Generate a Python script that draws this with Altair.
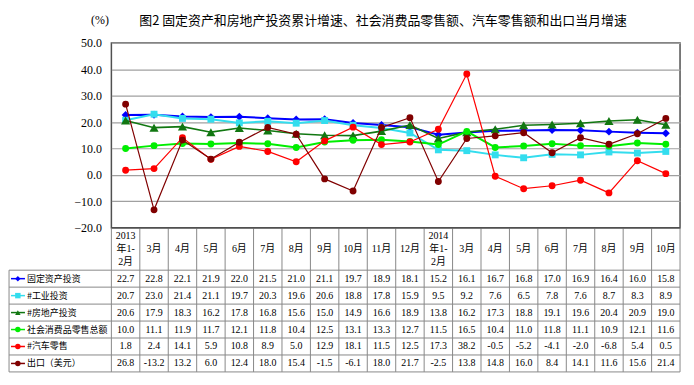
import altair as alt
import pandas as pd

categories = ["2013\n年1-\n2月", "3月", "4月", "5月", "6月", "7月", "8月", "9月", "10月", "11月", "12月",
              "2014\n年1-\n2月", "3月", "4月", "5月", "6月", "7月", "8月", "9月", "10月"]
series_names = ["固定资产投资", "#工业投资", "#房地产投资", "社会消费品零售总额", "#汽车零售", "出口（美元）"]
fixed_asset = [22.7, 22.8, 22.1, 21.9, 22.0, 21.5, 21.0, 21.1, 19.7, 18.9, 18.1, 15.2, 16.1, 16.7, 16.8, 17.0, 16.9, 16.4, 16.0, 15.8]
industry = [20.7, 23.0, 21.4, 21.1, 19.7, 20.3, 19.6, 20.6, 18.8, 17.8, 15.9, 9.5, 9.2, 7.6, 6.5, 7.8, 7.6, 8.7, 8.3, 8.9]
real_estate = [20.6, 17.9, 18.3, 16.2, 17.8, 16.8, 15.6, 15.0, 14.9, 16.6, 18.9, 13.8, 16.2, 17.3, 18.8, 19.1, 19.6, 20.4, 20.9, 19.0]
retail = [10.0, 11.1, 11.9, 11.7, 12.1, 11.8, 10.4, 12.5, 13.1, 13.3, 12.7, 11.5, 16.5, 10.4, 11.0, 11.8, 11.1, 10.9, 12.1, 11.6]
auto = [1.8, 2.4, 14.1, 5.9, 10.8, 8.9, 5.0, 12.9, 18.1, 11.5, 12.5, 17.3, 38.2, -0.5, -5.2, -4.1, -2.0, -6.8, 5.4, 0.5]
export = [26.8, -13.2, 13.2, 6.0, 12.4, 18.0, 15.4, -1.5, -6.1, 18.0, 21.7, -2.5, 13.8, 14.8, 16.0, 8.4, 14.1, 11.6, 15.6, 21.4]
series_values = [fixed_asset, industry, real_estate, retail, auto, export]
y_ticks = [-20, -10, 0, 10, 20, 30, 40, 50]

colors = ["#0000FF", "#33DDEE", "#117711", "#00EE00", "#FF0000", "#800000"]
shapes = ["diamond", "square", "triangle-up", "circle", "circle", "circle"]
sizes = [64, 48, 85, 48, 48, 48]
widths = [2, 2, 1.6, 2, 1.2, 1.2]

NUMFONT = "Liberation Serif, Noto Sans CJK SC"
CJK = "Noto Sans CJK SC"
W, H_TOP, H_TAB = 572, 186, 145
N = len(categories)

rows = []
for k, (name, vals) in enumerate(zip(series_names, series_values)):
    for i, v in enumerate(vals):
        rows.append({"series": name, "k": k, "x": i + 0.5, "value": v,
                     "label": f"{v:.1f}", "row": k + 3})
df = pd.DataFrame(rows)

xs = alt.Scale(domain=[0, N], nice=False, zero=False)
ys = alt.Scale(domain=[-20, 50], nice=False, zero=False)
yaxis = alt.Axis(values=y_ticks, format=".1f", ticks=False, domain=False,
                 labelFont=NUMFONT, labelFontSize=12, labelColor="black", labelPadding=10,
                 grid=True, gridColor="#A0A0A0", gridWidth=1.2,
                 title="(%)", titleAngle=0, titleX=-12, titleY=-23, titleAlign="center",
                 titleBaseline="middle", titleFont=NUMFONT, titleFontSize=12,
                 titleFontWeight="normal", titleColor="black")

layers = []
for k, name in enumerate(series_names):
    d = df[df["series"] == name]
    b = alt.Chart(d)
    enc = dict(x=alt.X("x:Q", scale=xs, axis=None),
               y=alt.Y("value:Q", scale=ys, axis=yaxis))
    layers.append(b.mark_line(color=colors[k], strokeWidth=widths[k]).encode(**enc))
    layers.append(b.mark_point(color=colors[k], filled=True, opacity=1, shape=shapes[k],
                               size=sizes[k]).encode(**enc))

top = alt.layer(*layers).properties(
    width=W, height=H_TOP,
    view=alt.ViewBackground(stroke="#505050", strokeWidth=1.5),
    title=alt.TitleParams(
        text="图2 固定资产和房地产投资累计增速、社会消费品零售额、汽车零售额和出口当月增速",
        anchor="start", frame="group", dx=28, offset=-14, font=CJK, fontSize=13,
        fontWeight="normal", color="black"))

# ---- data table ----
tx = alt.Scale(domain=[0, N], nice=False, zero=False)
ty = alt.Scale(domain=[0, 8.5], nice=False, zero=False, reverse=True)
LEG_LEFT, SYM_L, SYM_R, SYM_C, LAB_X = -3.6, -3.53, -3.04, -3.29, -2.97
HEAD_MID, LINE_H = 1.25, 13 / 17

cat_rows = []
for i, c in enumerate(categories):
    parts = c.split("\n")
    for j, p in enumerate(parts):
        cat_rows.append({"x": i + 0.5, "y": HEAD_MID + (j - (len(parts) - 1) / 2) * LINE_H, "text": p})
cat_df = pd.DataFrame(cat_rows)
leg_df = pd.DataFrame({"series": series_names, "row": [k + 3 for k in range(len(series_names))],
                       "x1": [SYM_L] * 6, "x2": [SYM_R] * 6, "xc": [SYM_C] * 6, "xl": [LAB_X] * 6})
h_df = pd.DataFrame({"y": [2.5 + j for j in range(7)], "x1": [LEG_LEFT] * 7, "x2": [N] * 7})
v_df = pd.DataFrame({"x": list(range(N + 1)) + [LEG_LEFT],
                     "y1": [0.0] * (N + 1) + [2.5], "y2": [8.5] * (N + 2)})
top_line = pd.DataFrame({"x1": [0], "x2": [N], "y": [0]})

X = lambda f: alt.X(f, scale=tx, axis=None)
Y = lambda f: alt.Y(f, scale=ty, axis=None)
cscale = alt.Scale(domain=series_names, range=colors)
sscale = alt.Scale(domain=series_names, range=shapes)

hl = alt.Chart(h_df).mark_rule(color="#888888", strokeWidth=1).encode(x=X("x1:Q"), x2="x2:Q", y=Y("y:Q"))
vl = alt.Chart(v_df).mark_rule(color="#888888", strokeWidth=1).encode(x=X("x:Q"), y=Y("y1:Q"), y2="y2:Q")
tl = alt.Chart(top_line).mark_rule(color="#505050", strokeWidth=1.5).encode(x=X("x1:Q"), x2="x2:Q", y=Y("y:Q"))
cat_txt = alt.Chart(cat_df).mark_text(font=NUMFONT, fontSize=10, color="black", baseline="middle").encode(
    x=X("x:Q"), y=Y("y:Q"), text="text:N")
val_txt = alt.Chart(df).mark_text(font=NUMFONT, fontSize=10, color="black", baseline="middle").encode(
    x=X("x:Q"), y=Y("row:Q"), text="label:N")
leg_line = alt.Chart(leg_df).mark_rule(strokeWidth=1.5).encode(
    x=X("x1:Q"), x2="x2:Q", y=Y("row:Q"), color=alt.Color("series:N", scale=cscale, legend=None))
leg_pt = alt.Chart(leg_df).mark_point(filled=True, opacity=1, size=30).encode(
    x=X("xc:Q"), y=Y("row:Q"), color=alt.Color("series:N", scale=cscale, legend=None),
    shape=alt.Shape("series:N", scale=sscale, legend=None))
leg_txt = alt.Chart(leg_df).mark_text(font=CJK, fontSize=9, color="black", align="left",
                                      baseline="middle").encode(x=X("xl:Q"), y=Y("row:Q"), text="series:N")

bottom = alt.layer(hl, vl, tl, cat_txt, val_txt, leg_line, leg_pt, leg_txt).properties(width=W, height=H_TAB)

chart = alt.vconcat(top, bottom, spacing=0, bounds="flush").resolve_scale(
    x="independent", y="independent", color="independent", shape="independent").properties(
    padding={"left": 0, "top": 4, "right": 4, "bottom": 0}
).configure_view(stroke="transparent")

chart.save("out.html", embed_options={"renderer": "svg", "actions": False})
